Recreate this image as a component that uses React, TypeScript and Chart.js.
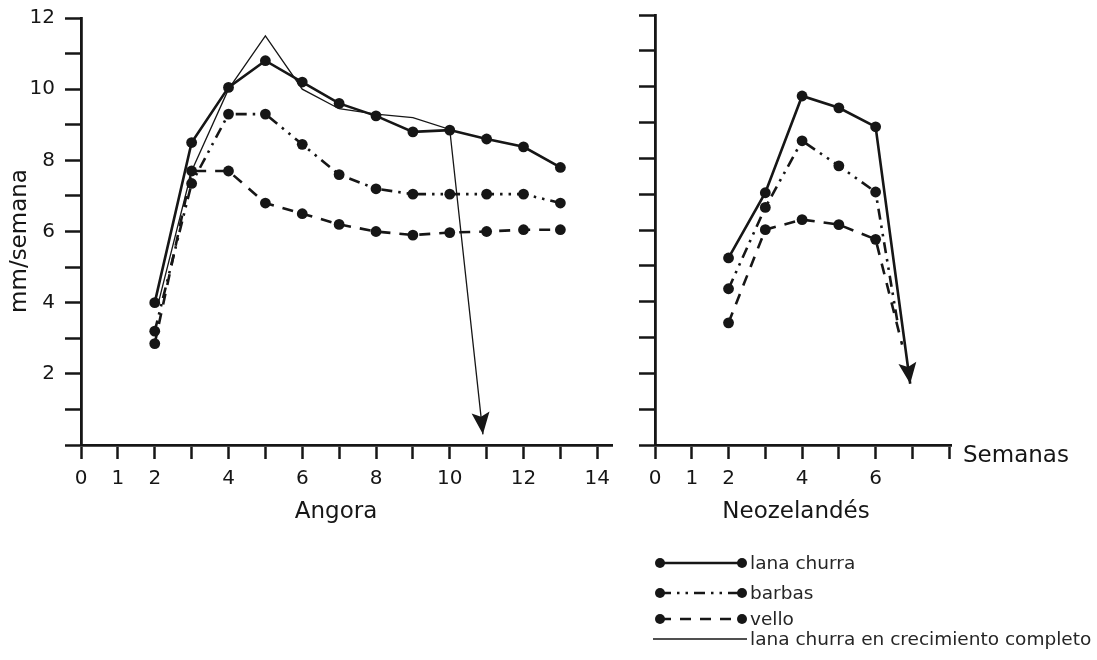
import React, { useEffect, useRef } from 'react';
import { Chart, registerables } from 'chart.js';

Chart.register(...registerables);

const FONT = '"DejaVu Sans", "Noto Sans", sans-serif';
const INK = '#161616';

// ---- Angora (left panel) ----
const angoraWeeks = [2, 3, 4, 5, 6, 7, 8, 9, 10, 11, 12, 13];
const angoraLana = [4.0, 8.5, 10.05, 10.8, 10.2, 9.6, 9.25, 8.8, 8.85, 8.6, 8.38, 7.8];
const angoraBarbas = [3.2, 7.35, 9.3, 9.3, 8.45, 7.6, 7.2, 7.05, 7.05, 7.05, 7.05, 6.8];
const angoraVello = [2.85, 7.7, 7.7, 6.8, 6.5, 6.2, 6.0, 5.9, 5.97, 6.0, 6.05, 6.05];
const angoraCompletoWeeks = [2.1, 3, 4, 5, 6, 7, 8, 9, 10, 10.9];
const angoraCompleto = [4.0, 7.7, 10.0, 11.5, 10.0, 9.45, 9.3, 9.2, 8.87, 0.3];

// ---- Neozelandés (right panel) ----
const nzWeeks = [2, 3, 4, 5, 6, 6.94];
const nzLana = [5.22, 7.04, 9.74, 9.41, 8.88, 1.71];
const nzBarbasWeeks = [2, 3, 4, 5, 6, 6.6];
const nzBarbas = [4.36, 6.63, 8.49, 7.79, 7.06, 3.4];
const nzVelloWeeks = [2, 3, 4, 5, 6, 6.72];
const nzVello = [3.41, 6.01, 6.29, 6.15, 5.74, 2.8];

// ---- ticks & texts ----
const angoraXTickLabels = [0, 1, 2, 4, 6, 8, 10, 12, 14];
const nzXTickLabels = [0, 1, 2, 4, 6];
const yTickLabels = [2, 4, 6, 8, 10, 12];
const legendLabels = ['lana churra', 'barbas', 'vello', 'lana churra en crecimiento completo'];
const yTitle = 'mm/semana';
const xTitle = 'Semanas';
const leftPanelTitle = 'Angora';
const rightPanelTitle = 'Neozelandés';

const STYLES = {
  lana: { dash: [] as number[], width: 2.6, points: true },
  barbas: { dash: [11, 6, 2.5, 6, 2.5, 6], width: 2.6, points: true },
  vello: { dash: [11, 9], width: 2.6, points: true },
  completo: { dash: [] as number[], width: 1.3, points: false },
};

const toXY = (xs: number[], ys: number[]) => xs.map((x, i) => ({ x, y: ys[i] }));

function ds(label: string, xs: number[], ys: number[], style: any, lastMarker = true) {
  const n = xs.length;
  return {
    label,
    data: toXY(xs, ys),
    borderColor: INK,
    backgroundColor: INK,
    borderWidth: style.width,
    borderDash: style.dash,
    borderCapStyle: 'butt',
    pointRadius: style.points ? xs.map((_, i) => (i === n - 1 && !lastMarker ? 0 : 5.4)) : 0,
    pointBorderWidth: 0,
    pointBackgroundColor: INK,
    tension: 0,
    fill: false,
  };
}

const arrowPlugin = {
  id: 'arrowHeads',
  afterDatasetsDraw(chart: any, _args: any, opts: any) {
    const ctx = chart.ctx;
    (opts.items || []).forEach((it: any) => {
      const pts = chart.getDatasetMeta(it.index).data;
      const a = pts[pts.length - 2];
      const b = pts[pts.length - 1];
      const ang = Math.atan2(b.y - a.y, b.x - a.x);
      ctx.save();
      ctx.translate(b.x, b.y);
      ctx.rotate(ang);
      ctx.beginPath();
      ctx.moveTo(0, 0);
      ctx.lineTo(-it.length, -it.width);
      ctx.lineTo(-it.length * 0.8, 0);
      ctx.lineTo(-it.length, it.width);
      ctx.closePath();
      ctx.fillStyle = INK;
      ctx.fill();
      ctx.restore();
    });
  },
};

const extrasPlugin = {
  id: 'extras',
  afterDraw(chart: any, _args: any, opts: any) {
    const ctx = chart.ctx;
    ctx.save();
    (opts.texts || []).forEach((t: any) => {
      ctx.save();
      ctx.font = `${t.size}px ${FONT}`;
      ctx.fillStyle = INK;
      ctx.textAlign = t.align || 'left';
      ctx.textBaseline = 'middle';
      ctx.translate(t.x, t.y);
      if (t.rotate) ctx.rotate(t.rotate);
      ctx.fillText(t.text, 0, 0);
      ctx.restore();
    });
    const lg = opts.legend;
    if (lg) {
      const keys = ['lana', 'barbas', 'vello', 'completo'];
      keys.forEach((k, i) => {
        const st: any = (STYLES as any)[k];
        const y = lg.rows[i];
        ctx.beginPath();
        ctx.setLineDash(st.dash);
        ctx.lineWidth = st.width;
        ctx.strokeStyle = INK;
        if (st.points) {
          ctx.moveTo(lg.x0, y);
          ctx.lineTo(lg.x1, y);
        } else {
          ctx.moveTo(lg.x0 - 7, y);
          ctx.lineTo(lg.x1 + 5, y);
        }
        ctx.stroke();
        ctx.setLineDash([]);
        if (st.points) {
          [lg.x0, lg.x1].forEach((px) => {
            ctx.beginPath();
            ctx.arc(px, y, 5, 0, Math.PI * 2);
            ctx.fillStyle = INK;
            ctx.fill();
          });
        }
        ctx.font = `${lg.size}px ${FONT}`;
        ctx.fillStyle = '#262626';
        ctx.textAlign = 'left';
        ctx.textBaseline = 'middle';
        ctx.fillText(legendLabels[i], lg.tx, y + 1);
      });
    }
    ctx.restore();
  },
};

function xScale(max: number, labels: number[], height: number) {
  return {
    type: 'linear',
    min: 0,
    max,
    afterFit: (s: any) => {
      s.height = height;
      s.paddingLeft = 0;
      s.paddingRight = 0;
    },
    ticks: {
      stepSize: 1,
      includeBounds: false,
      autoSkip: false,
      maxRotation: 0,
      minRotation: 0,
      padding: 8,
      color: INK,
      font: { family: FONT, size: 20 },
      callback: (v: number) => (labels.includes(v) ? String(v) : ''),
    },
    grid: { drawOnChartArea: false, drawTicks: true, tickLength: 14, tickWidth: 2.5, tickColor: INK },
    border: { color: INK, width: 2.8 },
    title: { display: false },
  };
}

function yScale(width: number, showLabels: boolean) {
  return {
    type: 'linear',
    min: 0,
    max: 12,
    afterFit: (s: any) => {
      s.width = width;
      s.paddingTop = 0;
      s.paddingBottom = 0;
    },
    ticks: {
      stepSize: 1,
      includeBounds: false,
      padding: 10,
      color: INK,
      font: { family: FONT, size: 20 },
      callback: (v: number) => (showLabels && yTickLabels.includes(v) ? String(v) : ''),
    },
    grid: { drawOnChartArea: false, drawTicks: true, tickLength: 16, tickWidth: 2.5, tickColor: INK },
    border: { color: INK, width: 2.8 },
    title: { display: false },
  };
}

const LEFT_W = 620;
const RIGHT_X = 620;
const RIGHT_W = 1097 - RIGHT_X;

export default function App() {
  const leftRef = useRef<HTMLCanvasElement>(null);
  const rightRef = useRef<HTMLCanvasElement>(null);

  useEffect(() => {
    const left = new Chart(leftRef.current as HTMLCanvasElement, {
      type: 'line',
      data: {
        datasets: [
          ds('lana churra', angoraWeeks, angoraLana, STYLES.lana),
          ds('barbas', angoraWeeks, angoraBarbas, STYLES.barbas),
          ds('vello', angoraWeeks, angoraVello, STYLES.vello),
          ds('lana churra en crecimiento completo', angoraCompletoWeeks, angoraCompleto, STYLES.completo),
        ],
      } as any,
      options: {
        responsive: false,
        animation: false,
        events: [],
        devicePixelRatio: 1,
        layout: { padding: { top: 18, right: LEFT_W - 612, left: 0, bottom: 0 } },
        scales: {
          x: xScale(14.4, angoraXTickLabels, 215),
          y: yScale(81, true),
        } as any,
        plugins: {
          legend: { display: false },
          tooltip: { enabled: false },
          arrowHeads: { items: [{ index: 3, length: 22, width: 9 }] },
          extras: {
            texts: [
              { text: leftPanelTitle, x: 336, y: 512, size: 23, align: 'center' },
              { text: yTitle, x: 20, y: 241, size: 23, align: 'center', rotate: -Math.PI / 2 },
            ],
          },
        } as any,
      },
      plugins: [arrowPlugin, extrasPlugin],
    });

    const right = new Chart(rightRef.current as HTMLCanvasElement, {
      type: 'line',
      data: {
        datasets: [
          ds('lana churra', nzWeeks, nzLana, STYLES.lana, false),
          ds('barbas', nzBarbasWeeks, nzBarbas, STYLES.barbas, false),
          ds('vello', nzVelloWeeks, nzVello, STYLES.vello, false),
        ],
      } as any,
      options: {
        responsive: false,
        animation: false,
        events: [],
        devicePixelRatio: 1,
        layout: { padding: { top: 15, right: 1097 - 951, left: 0, bottom: 0 } },
        scales: {
          x: xScale(8.05, nzXTickLabels, 215),
          y: yScale(655 - RIGHT_X, false),
        } as any,
        plugins: {
          legend: { display: false },
          tooltip: { enabled: false },
          arrowHeads: { items: [{ index: 0, length: 21, width: 9 }] },
          extras: {
            texts: [
              { text: xTitle, x: 963 - RIGHT_X, y: 456, size: 23 },
              { text: rightPanelTitle, x: 796 - RIGHT_X, y: 512, size: 23, align: 'center' },
            ],
            legend: {
              x0: 660 - RIGHT_X,
              x1: 742 - RIGHT_X,
              tx: 750 - RIGHT_X,
              rows: [563, 593, 619, 639],
              size: 18.5,
            },
          },
        } as any,
      },
      plugins: [arrowPlugin, extrasPlugin],
    });

    return () => {
      left.destroy();
      right.destroy();
    };
  }, []);

  return (
    <div style={{ position: 'fixed', left: 0, top: 0, width: 1097, height: 660, background: '#fff', overflow: 'hidden' }}>
      <canvas
        ref={leftRef}
        width={LEFT_W}
        height={660}
        style={{ position: 'absolute', left: 0, top: 0, width: LEFT_W, height: 660, display: 'block' }}
      />
      <canvas
        ref={rightRef}
        width={RIGHT_W}
        height={660}
        style={{ position: 'absolute', left: RIGHT_X, top: 0, width: RIGHT_W, height: 660, display: 'block' }}
      />
    </div>
  );
}
